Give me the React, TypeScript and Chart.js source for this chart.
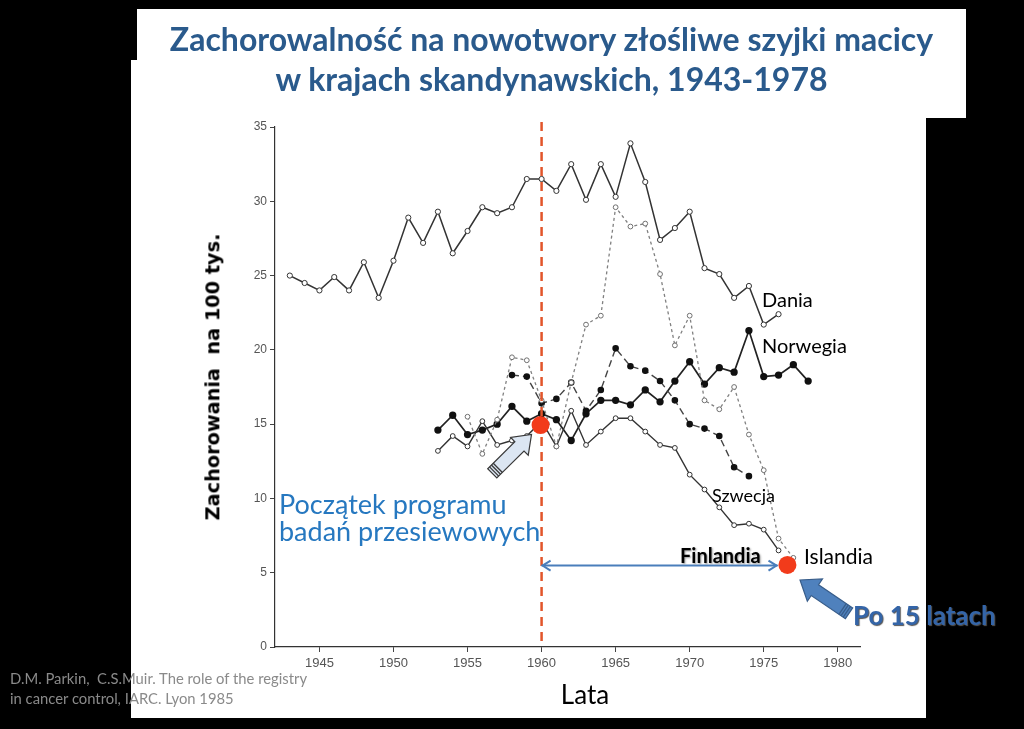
import React, { useEffect, useRef } from "react";
import { Chart, registerables } from "chart.js";

Chart.register(...registerables);

// ---------- data ----------
const denmarkYears = [1943, 1944, 1945, 1946, 1947, 1948, 1949, 1950, 1951, 1952, 1953, 1954, 1955, 1956, 1957, 1958, 1959, 1960, 1961, 1962, 1963, 1964, 1965, 1966, 1967, 1968, 1969, 1970, 1971, 1972, 1973, 1974, 1975, 1976];
const denmarkValues = [25.0, 24.5, 24.0, 24.9, 24.0, 25.9, 23.5, 26.0, 28.9, 27.2, 29.3, 26.5, 28.0, 29.6, 29.2, 29.6, 31.5, 31.5, 30.7, 32.5, 30.1, 32.5, 30.3, 33.9, 31.3, 27.4, 28.2, 29.3, 25.5, 25.1, 23.5, 24.3, 21.7, 22.4];

const norwayYears = [1953, 1954, 1955, 1956, 1957, 1958, 1959, 1960, 1961, 1962, 1963, 1964, 1965, 1966, 1967, 1968, 1969, 1970, 1971, 1972, 1973, 1974, 1975, 1976, 1977, 1978];
const norwayValues = [14.6, 15.6, 14.3, 14.6, 15.0, 16.2, 15.2, 15.7, 15.3, 13.9, 15.7, 16.6, 16.6, 16.3, 17.3, 16.5, 17.9, 19.2, 17.7, 18.8, 18.5, 21.3, 18.2, 18.3, 19.0, 17.9];

const swedenYears = [1958, 1959, 1960, 1961, 1962, 1963, 1964, 1965, 1966, 1967, 1968, 1969, 1970, 1971, 1972, 1973, 1974];
const swedenValues = [18.3, 18.2, 16.4, 16.7, 17.8, 15.9, 17.3, 20.1, 18.9, 18.6, 17.9, 16.6, 15.0, 14.7, 14.2, 12.1, 11.5];

const finlandYears = [1953, 1954, 1955, 1956, 1957, 1958, 1959, 1960, 1961, 1962, 1963, 1964, 1965, 1966, 1967, 1968, 1969, 1970, 1971, 1972, 1973, 1974, 1975, 1976];
const finlandValues = [13.2, 14.2, 13.5, 15.2, 13.6, 13.9, 14.2, 15.2, 13.5, 15.9, 13.6, 14.5, 15.4, 15.4, 14.5, 13.6, 13.4, 11.6, 10.6, 9.4, 8.2, 8.3, 7.9, 6.5];

const icelandYears = [1955, 1956, 1957, 1958, 1959, 1960, 1961, 1962, 1963, 1964, 1965, 1966, 1967, 1968, 1969, 1970, 1971, 1972, 1973, 1974, 1975, 1976, 1977];
const icelandValues = [15.5, 13.0, 15.3, 19.5, 19.3, 16.6, 13.5, 17.8, 21.7, 22.3, 29.6, 28.3, 28.5, 25.1, 20.3, 22.3, 16.6, 16.0, 17.5, 14.3, 11.9, 7.3, 6.0];

const xTickYears = [1945, 1950, 1955, 1960, 1965, 1970, 1975, 1980];
const yTickValues = [0, 5, 10, 15, 20, 25, 30, 35];

// annotation anchors (in data units)
const screeningStartYear = 1960;
const redDotYears = [1959.93, 1976.6];
const redDotValues = [14.94, 5.52];
const spanArrowYears = [1960, 1975.93];
const spanArrowValue = 5.48;
const startArrowYears = [1956.67, 1959.32];
const startArrowValues = [11.69, 14.31];
const laterArrowYears = [1980.76, 1977.45];
const laterArrowValues = [2.27, 4.51];

function toPoints(xs: number[], ys: number[]) {
  return xs.map((x, i) => ({ x, y: ys[i] }));
}

function blockArrow(
  ctx: CanvasRenderingContext2D,
  x0: number, y0: number, x1: number, y1: number,
  shaftW: number, headW: number, headL: number,
  fill: string, stroke: string
) {
  const dx = x1 - x0, dy = y1 - y0;
  const L = Math.hypot(dx, dy);
  const ux = dx / L, uy = dy / L;
  const nx = -uy, ny = ux;
  const bx = x1 - ux * headL, by = y1 - uy * headL;
  const pts: [number, number][] = [
    [x0 + nx * shaftW / 2, y0 + ny * shaftW / 2],
    [bx + nx * shaftW / 2, by + ny * shaftW / 2],
    [bx + nx * headW / 2, by + ny * headW / 2],
    [x1, y1],
    [bx - nx * headW / 2, by - ny * headW / 2],
    [bx - nx * shaftW / 2, by - ny * shaftW / 2],
    [x0 - nx * shaftW / 2, y0 - ny * shaftW / 2],
  ];
  ctx.save();
  ctx.beginPath();
  ctx.moveTo(pts[0][0], pts[0][1]);
  for (let i = 1; i < pts.length; i++) ctx.lineTo(pts[i][0], pts[i][1]);
  ctx.closePath();
  ctx.fillStyle = fill;
  ctx.fill();
  ctx.lineWidth = 1.2;
  ctx.strokeStyle = stroke;
  ctx.stroke();
  // striped tail
  ctx.lineWidth = 1.3;
  for (let k = 1; k <= 3; k++) {
    const d = k * 2.6;
    const cx = x0 + ux * d, cy = y0 + uy * d;
    ctx.beginPath();
    ctx.moveTo(cx + nx * shaftW / 2, cy + ny * shaftW / 2);
    ctx.lineTo(cx - nx * shaftW / 2, cy - ny * shaftW / 2);
    ctx.stroke();
  }
  ctx.restore();
}

const annotationPlugin = {
  id: "slideAnnotations",
  afterDatasetsDraw(chart: any) {
    const { ctx, chartArea, scales } = chart;
    const xs = scales.x, ys = scales.y;
    ctx.save();
    // red dashed vertical line
    const lx = xs.getPixelForValue(screeningStartYear);
    ctx.strokeStyle = "#e2552b";
    ctx.lineWidth = 2.5;
    ctx.setLineDash([9, 6]);
    ctx.beginPath();
    ctx.moveTo(lx, chartArea.top - 5);
    ctx.lineTo(lx, chartArea.bottom);
    ctx.stroke();
    ctx.setLineDash([]);

    // span arrow
    const ay = ys.getPixelForValue(spanArrowValue);
    const ax0 = xs.getPixelForValue(spanArrowYears[0]);
    const ax1 = xs.getPixelForValue(spanArrowYears[1]);
    ctx.strokeStyle = "#4a7ebb";
    ctx.lineWidth = 2;
    ctx.beginPath();
    ctx.moveTo(ax0, ay);
    ctx.lineTo(ax1, ay);
    ctx.stroke();
    ctx.beginPath();
    ctx.moveTo(ax0 + 9, ay - 5);
    ctx.lineTo(ax0 + 1, ay);
    ctx.lineTo(ax0 + 9, ay + 5);
    ctx.moveTo(ax1 - 9, ay - 5);
    ctx.lineTo(ax1 - 1, ay);
    ctx.lineTo(ax1 - 9, ay + 5);
    ctx.stroke();

    // arrows
    blockArrow(
      ctx,
      xs.getPixelForValue(startArrowYears[0]), ys.getPixelForValue(startArrowValues[0]),
      xs.getPixelForValue(startArrowYears[1]), ys.getPixelForValue(startArrowValues[1]),
      13, 25, 17, "#dce6f2", "#3a3a3a"
    );
    blockArrow(
      ctx,
      xs.getPixelForValue(laterArrowYears[0]), ys.getPixelForValue(laterArrowValues[0]),
      xs.getPixelForValue(laterArrowYears[1]), ys.getPixelForValue(laterArrowValues[1]),
      13, 27, 18, "#4f81bd", "#385d8a"
    );

    // red dots
    ctx.fillStyle = "#f23b1b";
    redDotYears.forEach((yr, i) => {
      ctx.beginPath();
      ctx.arc(xs.getPixelForValue(yr), ys.getPixelForValue(redDotValues[i]), 9, 0, Math.PI * 2);
      ctx.fill();
    });
    ctx.restore();
  },
};

const tickFont = { family: "'Liberation Sans', Arial, sans-serif", size: 13 };

function ChartCanvas() {
  const ref = useRef<HTMLCanvasElement | null>(null);
  useEffect(() => {
    if (!ref.current) return;
    const chart = new Chart(ref.current, {
      type: "line",
      data: {
        datasets: [
          {
            label: "Islandia",
            data: toPoints(icelandYears, icelandValues),
            borderColor: "#808080",
            borderWidth: 1.3,
            borderDash: [3, 3],
            pointRadius: 2.4,
            pointBorderWidth: 1,
            pointBackgroundColor: "#ffffff",
            pointBorderColor: "#707070",
            tension: 0,
          },
          {
            label: "Szwecja",
            data: toPoints(swedenYears, swedenValues),
            borderColor: "#444444",
            borderWidth: 1.4,
            borderDash: [7, 4],
            pointRadius: 2.6,
            pointBackgroundColor: "#111111",
            pointBorderColor: "#111111",
            tension: 0,
          },
          {
            label: "Finlandia",
            data: toPoints(finlandYears, finlandValues),
            borderColor: "#333333",
            borderWidth: 1.4,
            pointRadius: 2.4,
            pointBorderWidth: 1,
            pointBackgroundColor: "#ffffff",
            pointBorderColor: "#333333",
            tension: 0,
          },
          {
            label: "Norwegia",
            data: toPoints(norwayYears, norwayValues),
            borderColor: "#222222",
            borderWidth: 1.7,
            pointRadius: 2.8,
            pointBackgroundColor: "#111111",
            pointBorderColor: "#111111",
            tension: 0,
          },
          {
            label: "Dania",
            data: toPoints(denmarkYears, denmarkValues),
            borderColor: "#333333",
            borderWidth: 1.5,
            pointRadius: 2.6,
            pointBorderWidth: 1,
            pointBackgroundColor: "#ffffff",
            pointBorderColor: "#333333",
            tension: 0,
          },
        ],
      },
      options: {
        animation: false,
        responsive: false,
        devicePixelRatio: 1,
        layout: { padding: { left: 0, right: 164, top: 127, bottom: 52 } },
        plugins: {
          legend: { display: false },
          tooltip: { enabled: false },
          title: { display: false },
        },
        scales: {
          x: {
            type: "linear",
            min: 1942,
            max: 1981.5,
            afterFit: (s: any) => {
              s.height = 30;
            },
            afterBuildTicks: (s: any) => {
              s.ticks = xTickYears.map((v) => ({ value: v }));
            },
            grid: { display: true, drawOnChartArea: false, tickLength: 5, tickColor: "#444", color: "#444" },
            border: { display: true, color: "#333", width: 1.2 },
            ticks: {
              font: tickFont,
              color: "#555",
              padding: 4,
              maxRotation: 0,
              autoSkip: false,
              callback: (v: any) => String(v),
            },
          },
          y: {
            type: "linear",
            min: 0,
            max: 35,
            afterFit: (s: any) => {
              s.width = 275;
            },
            afterBuildTicks: (s: any) => {
              s.ticks = yTickValues.map((v) => ({ value: v }));
            },
            grid: { display: true, drawOnChartArea: false, tickLength: 5, tickColor: "#444", color: "#444" },
            border: { display: true, color: "#333", width: 1.2 },
            ticks: {
              font: { family: "'Liberation Sans', Arial, sans-serif", size: 12 },
              color: "#555",
              padding: 3,
              autoSkip: false,
              callback: (v: any) => String(v),
            },
          },
        },
      },
      plugins: [annotationPlugin],
    } as any);
    return () => chart.destroy();
  }, []);
  return (
    <canvas
      ref={ref}
      width={1024}
      height={729}
      style={{ position: "absolute", left: 0, top: 0, width: 1024, height: 729 }}
    />
  );
}

const calibri = "Lato, 'Open Sans', sans-serif";

function Label(props: { x: number; y: number; text: string; style?: React.CSSProperties }) {
  return (
    <div
      style={{
        position: "absolute",
        left: props.x,
        top: props.y,
        transform: "translateY(-50%)",
        lineHeight: 1,
        whiteSpace: "nowrap",
        fontFamily: calibri,
        ...props.style,
      }}
    >
      {props.text}
    </div>
  );
}

const titleStyle: React.CSSProperties = {
  position: "absolute",
  left: 137,
  width: 829,
  transform: "translateY(-50%)",
  textAlign: "center",
  fontFamily: calibri,
  fontWeight: 700,
  fontSize: 32,
  lineHeight: 1,
  color: "#2a5a8c",
  whiteSpace: "nowrap",
};

export default function App() {
  return (
    <div
      style={{
        position: "fixed",
        left: 0,
        top: 0,
        width: 1024,
        height: 729,
        background: "#000",
        overflow: "hidden",
      }}
    >
      {/* white panels */}
      <div style={{ position: "absolute", left: 137, top: 9, width: 829, height: 109, background: "#fff" }} />
      <div style={{ position: "absolute", left: 131, top: 60, width: 795, height: 658, background: "#fff" }} />

      <ChartCanvas />

      {/* title */}
      <div style={{ ...titleStyle, top: 39 }}>Zachorowalność na nowotwory złośliwe szyjki macicy</div>
      <div style={{ ...titleStyle, top: 79 }}>w krajach skandynawskich, 1943-1978</div>

      {/* y-axis title */}
      <div
        style={{
          position: "absolute",
          left: 213,
          top: 377,
          transform: "translate(-50%, -50%) rotate(-90deg)",
          fontFamily: "'DejaVu Sans', Verdana, sans-serif",
          fontWeight: 700,
          fontSize: 19.3,
          lineHeight: 1,
          whiteSpace: "pre",
          color: "#000",
        }}
      >
        {"Zachorowania  na 100 tys."}
      </div>

      {/* x-axis title */}
      <div
        style={{
          position: "absolute",
          left: 585,
          top: 694,
          transform: "translate(-50%, -50%)",
          fontFamily: calibri,
          fontSize: 26,
          lineHeight: 1,
          color: "#000",
        }}
      >
        Lata
      </div>

      {/* series labels */}
      <Label x={762} y={299} text="Dania" style={{ fontSize: 20, color: "#000" }} />
      <Label x={762} y={345} text="Norwegia" style={{ fontSize: 20, color: "#000" }} />
      <Label x={712} y={495} text="Szwecja" style={{ fontSize: 18, color: "#000" }} />
      <Label
        x={680}
        y={555}
        text="Finlandia"
        style={{ fontSize: 20, fontWeight: 700, color: "#000", textShadow: "1px 1px 2px #999" }}
      />
      <Label x={804} y={555} text="Islandia" style={{ fontSize: 21, color: "#000" }} />

      {/* annotation texts */}
      <Label x={279} y={503} text="Początek programu" style={{ fontSize: 27, color: "#2678c0" }} />
      <Label x={279} y={530} text="badań przesiewowych" style={{ fontSize: 27, color: "#2678c0" }} />
      <Label
        x={853}
        y={615}
        text="Po 15 latach"
        style={{ fontSize: 26, fontWeight: 700, color: "#3465a8", textShadow: "1px 1px 1px #555" }}
      />

      {/* citation */}
      <Label x={10} y={678} text="D.M. Parkin,  C.S.Muir. The role of the registry" style={{ fontSize: 14.8, color: "#8a8a8a", whiteSpace: "pre" }} />
      <Label x={10} y={698} text="in cancer control, IARC. Lyon 1985" style={{ fontSize: 14.8, color: "#8a8a8a" }} />
    </div>
  );
}
